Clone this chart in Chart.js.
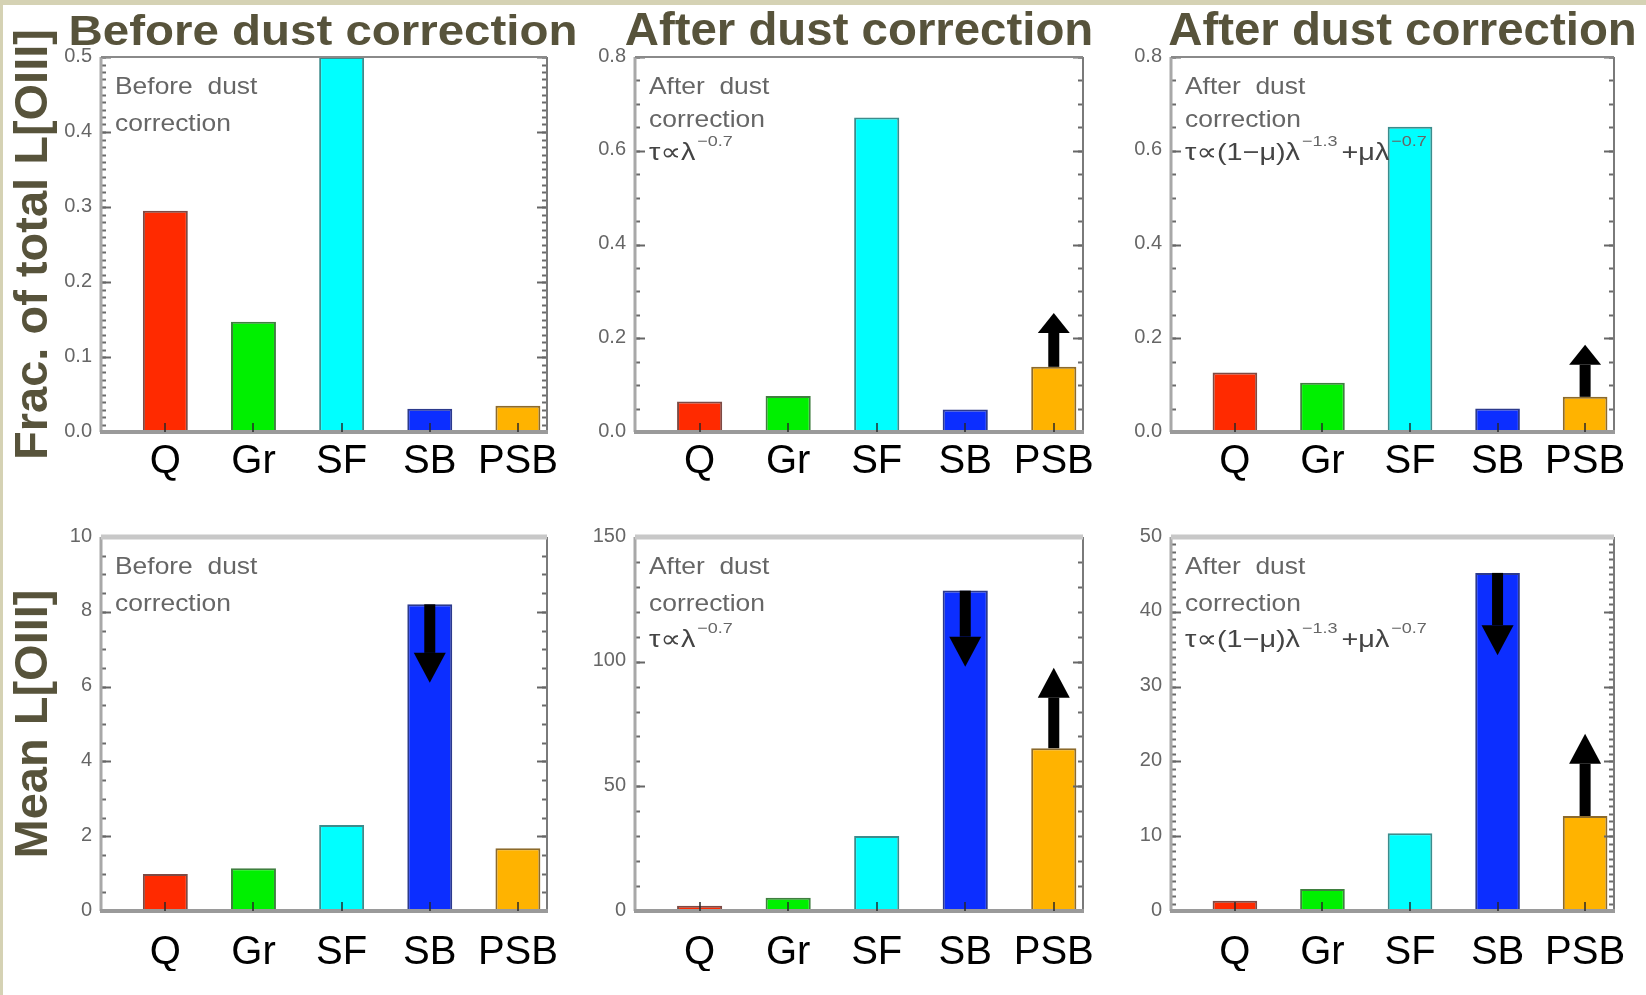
<!DOCTYPE html>
<html><head><meta charset="utf-8">
<script src="https://cdn.jsdelivr.net/npm/chart.js@4.4.0/dist/chart.umd.min.js"></script>
<style>
html,body{margin:0;padding:0;background:#d5d2b4;}
#wrap{position:relative;width:1646px;height:995px;overflow:hidden;background:#d5d2b4;}
#paper{position:absolute;left:3px;top:5px;width:1643px;height:990px;background:#fff;}
canvas{position:absolute;left:0;top:0;}
</style></head><body>
<div id="wrap"><div id="paper"></div>
<canvas id="c1" width="1646" height="995"></canvas>
<canvas id="c2" width="1646" height="995"></canvas>
<canvas id="c3" width="1646" height="995"></canvas>
<canvas id="c4" width="1646" height="995"></canvas>
<canvas id="c5" width="1646" height="995"></canvas>
<canvas id="c6" width="1646" height="995"></canvas>
</div>
<script>
// ---------------- data ----------------
const categories = ['Q', 'Gr', 'SF', 'SB', 'PSB'];
const fracBefore   = [0.295, 0.147, 0.500, 0.031, 0.035];
const fracAfterPow = [0.065, 0.077, 0.671, 0.048, 0.139];
const fracAfterMix = [0.127, 0.105, 0.651, 0.050, 0.075];
const meanBefore   = [0.99, 1.14, 2.30, 8.20, 1.68];
const meanAfterPow = [2.1, 5.3, 30.1, 128.5, 65.3];
const meanAfterMix = [1.38, 2.94, 10.4, 45.2, 12.7];
// limit arrows: category index, from value, to value (data units)
const arrowsFracBefore = [];
const arrowsFracPow = [{i: 4, from: 0.139, to: 0.254}];
const arrowsFracMix = [{i: 4, from: 0.075, to: 0.186}];
const arrowsMeanBefore = [{i: 3, from: 8.2, to: 6.1}];
const arrowsMeanPow = [{i: 3, from: 128.5, to: 98.0}, {i: 4, from: 65.3, to: 97.6}];
const arrowsMeanMix = [{i: 3, from: 45.2, to: 34.2}, {i: 4, from: 12.7, to: 23.7}];
const colTitles = ['Before dust correction', 'After dust correction', 'After dust correction'];
const rowTitles = ['Frac. of total L[OIII]', 'Mean L[OIII]'];
const noteBefore = [[['Before  dust', 0]], [['correction', 0]]];
const notePow = [[['After  dust', 0]], [['correction', 0]], [['τ∝λ', 0], ['−0.7', 1]]];
const noteMix = [[['After  dust', 0]], [['correction', 0]], [['τ∝(1−μ)λ', 0], ['−1.3', 1], ['+μλ', 0], ['−0.7', 1]]];

// ---------------- style ----------------
const FONT = "'Liberation Sans', 'DejaVu Sans', Arial, sans-serif";
Chart.defaults.font.family = FONT;
const barFill = ['#ff2a00', '#00f000', '#00ffff', '#0c2eff', '#ffb300'];
const barEdge = ['#7d4a44', '#3f7f3f', '#3c8c8c', '#2c3a8c', '#8c6a2c'];
const TITLE_COLOR = '#57533b';

const panels = [
  {id: 'c1', values: fracBefore, ymax: 0.5, step: 0.1, minor: 0.01, dec: 1, box: [101, 57, 547, 432], row: 0,
   title: colTitles[0], tSize: 42, tSx: 1.13, tDx: -1, ytitle: rowTitles[0], notes: noteBefore, noteDy: [30, 67], arrows: arrowsFracBefore, head: 20},
  {id: 'c2', values: fracAfterPow, ymax: 0.8, step: 0.2, minor: 0.05, dec: 1, box: [635, 57, 1083, 432], row: 0,
   title: colTitles[1], tSize: 46, tSx: 1.03, tDx: 0, ytitle: null, notes: notePow, noteDy: [30, 63, 96], arrows: arrowsFracPow, head: 20},
  {id: 'c3', values: fracAfterMix, ymax: 0.8, step: 0.2, minor: 0.05, dec: 1, box: [1171, 57, 1614, 432], row: 0,
   title: colTitles[2], tSize: 46, tSx: 1.03, tDx: 10, ytitle: null, notes: noteMix, noteDy: [30, 63, 96], arrows: arrowsFracMix, head: 20},
  {id: 'c4', values: meanBefore, ymax: 10, step: 2, minor: 0.5, dec: 0, box: [101, 537, 547, 911], row: 1,
   title: null, ytitle: rowTitles[1], notes: noteBefore, noteDy: [30, 67], arrows: arrowsMeanBefore, head: 30},
  {id: 'c5', values: meanAfterPow, ymax: 150, step: 50, minor: 10, dec: 0, box: [635, 537, 1083, 911], row: 1,
   title: null, ytitle: null, notes: notePow, noteDy: [30, 67, 103], arrows: arrowsMeanPow, head: 30},
  {id: 'c6', values: meanAfterMix, ymax: 50, step: 10, minor: 1, dec: 0, box: [1171, 537, 1614, 911], row: 1,
   title: null, ytitle: null, notes: noteMix, noteDy: [30, 67, 103], arrows: arrowsMeanMix, head: 30}
];

function seg(ctx, x1, y1, x2, y2) { ctx.beginPath(); ctx.moveTo(x1, y1); ctx.lineTo(x2, y2); ctx.stroke(); }
function stretchText(ctx, txt, x, y, sx) {
  ctx.save(); ctx.translate(x, y); ctx.scale(sx, 1); ctx.fillText(txt, 0, 0); ctx.restore();
  return ctx.measureText(txt).width * sx;
}

const decorPlugin = {
  id: 'decor',
  afterDatasetsDraw(chart, args, o) {
    const {ctx, chartArea: a, scales: {x, y}} = chart;
    ctx.save();
    // minor ticks
    ctx.strokeStyle = '#6a6a6a'; ctx.lineWidth = 2;
    const n = Math.round(o.ymax / o.minor);
    for (let k = 0; k <= n; k++) {
      const py = Math.round(y.getPixelForValue(k * o.minor)) + 0.5;
      seg(ctx, a.left, py, a.left + 5, py);
      seg(ctx, a.right - 5, py, a.right, py);
    }
    // major ticks
    ctx.strokeStyle = '#666';
    y.ticks.forEach(t => {
      const py = Math.round(y.getPixelForValue(t.value)) + 0.5;
      seg(ctx, a.left, py, a.left + 10, py);
      seg(ctx, a.right - 10, py, a.right, py);
    });
    // frame
    ctx.strokeStyle = '#a8a8a8'; ctx.lineWidth = 3;
    seg(ctx, a.left, a.top, a.left, a.bottom);
    ctx.strokeStyle = '#7a7a7a'; ctx.lineWidth = 2;
    seg(ctx, a.right, a.top, a.right, a.bottom);
    if (o.row === 0) { ctx.strokeStyle = '#8a8a8a'; ctx.lineWidth = 2; }
    else { ctx.strokeStyle = '#c8c8c8'; ctx.lineWidth = 5; }
    seg(ctx, a.left, a.top, a.right, a.top);
    ctx.strokeStyle = '#9a9a9a'; ctx.lineWidth = 4;
    seg(ctx, a.left - 1, a.bottom, a.right + 1, a.bottom);
    // category ticks on bottom axis
    ctx.strokeStyle = 'rgba(40,40,40,0.75)'; ctx.lineWidth = 2;
    x.ticks.forEach(t => {
      const px = Math.round(x.getPixelForValue(t.value));
      seg(ctx, px, a.bottom, px, a.bottom - 9);
    });
    // arrows
    ctx.fillStyle = '#000';
    o.arrows.forEach(ar => {
      const px = x.getPixelForValue(ar.i);
      const y0 = y.getPixelForValue(ar.from);
      const y1 = y.getPixelForValue(ar.to);
      const dir = y1 > y0 ? 1 : -1;
      const hb = y1 - dir * o.head;
      ctx.fillRect(px - 5.5, Math.min(y0, hb), 11, Math.abs(hb - y0));
      ctx.beginPath();
      ctx.moveTo(px - 16, hb); ctx.lineTo(px + 16, hb); ctx.lineTo(px, y1); ctx.closePath(); ctx.fill();
    });
    ctx.restore();
  },
  afterDraw(chart, args, o) {
    const {ctx, chartArea: a} = chart;
    ctx.save();
    if (o.title) {
      ctx.font = `bold ${o.tSize}px ${FONT}`;
      ctx.fillStyle = TITLE_COLOR;
      ctx.textAlign = 'left'; ctx.textBaseline = 'alphabetic';
      const w = ctx.measureText(o.title).width * o.tSx;
      stretchText(ctx, o.title, (a.left + a.right) / 2 + o.tDx - w / 2, 45, o.tSx);
    }
    ctx.textAlign = 'left'; ctx.textBaseline = 'middle';
    o.notes.forEach((line, li) => {
      let px = a.left + 14;
      const py = a.top + o.noteDy[li];
      const sx = li === 2 ? 1.2 : 1.1;
      line.forEach(([txt, sup]) => {
        if (sup) { ctx.font = `15px ${FONT}`; ctx.fillStyle = '#666'; px += 2; px += stretchText(ctx, txt, px, py - 11, sx) + 4; }
        else { ctx.font = `24px ${FONT}`; ctx.fillStyle = li === 2 ? '#444' : '#666'; px += stretchText(ctx, txt, px, py, sx); }
      });
    });
    ctx.restore();
  }
};

panels.forEach(p => {
  const W = p.ytitle ? 101 : 60;
  const H = 60;
  new Chart(document.getElementById(p.id), {
    type: 'bar',
    data: {
      datasets: [{
        data: p.values.map((v, i) => ({x: i, y: v})),
        backgroundColor: barFill,
        borderColor: barEdge,
        borderWidth: 2,
        borderSkipped: 'bottom',
        categoryPercentage: 1,
        barPercentage: 0.51
      }]
    },
    options: {
      responsive: false,
      animation: false,
      events: [],
      layout: {autoPadding: false, padding: {left: p.box[0] - W, top: p.box[1], right: 1646 - p.box[2], bottom: 995 - p.box[3] - H}},
      plugins: {legend: {display: false}, tooltip: {enabled: false}, decor: {...p}},
      scales: {
        x: {
          type: 'linear', min: -0.73, max: 4.33, offset: false,
          grid: {display: false, drawTicks: false}, border: {display: false},
          afterFit: s => { s.height = H; s.paddingLeft = 0; s.paddingRight = 0; },
          ticks: {
            stepSize: 1, includeBounds: false, autoSkip: false, maxRotation: 0,
            padding: p.row === 0 ? 6 : 18,
            color: '#000', font: {size: 40},
            callback: v => categories[v] ?? ''
          }
        },
        y: {
          type: 'linear', min: 0, max: p.ymax,
          grid: {display: false, drawTicks: false}, border: {display: false},
          afterFit: s => { s.width = W; s.paddingTop = 0; s.paddingBottom = 0; },
          title: p.ytitle ? {display: true, text: p.ytitle, color: TITLE_COLOR, font: {size: 47, weight: 'bold'}, padding: {top: 6, bottom: 0}} : {display: false},
          ticks: {
            stepSize: p.step, padding: 9, labelOffset: -1,
            color: '#666', font: {size: 20},
            callback: v => Number(v).toFixed(p.dec)
          }
        }
      }
    },
    plugins: [decorPlugin]
  });
});
</script>
</body></html>
